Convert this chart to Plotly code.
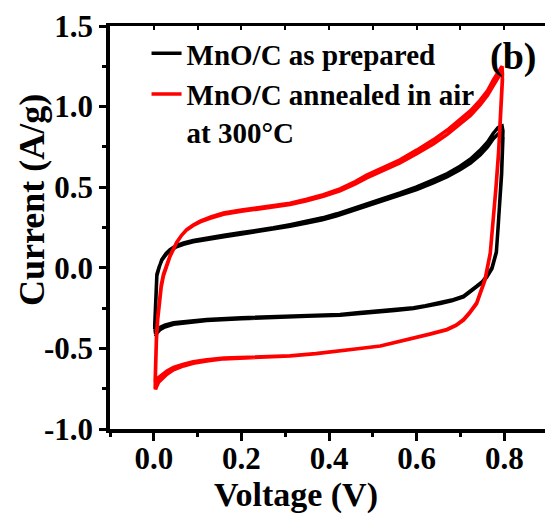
import plotly.graph_objects as go

# ---------------- data ----------------
# MnO/C as prepared (black) : forward sweep then reverse sweep, two cycles
black_v_fwd = [0.002, 0.003, 0.005, 0.007, 0.012, 0.018, 0.028, 0.037, 0.05, 0.068, 0.09, 0.121,
               0.16, 0.197, 0.235, 0.273, 0.311, 0.349, 0.385, 0.418, 0.45, 0.486, 0.524, 0.562,
               0.6, 0.638, 0.67, 0.699, 0.723, 0.745, 0.762, 0.775, 0.786, 0.795]
black_i_fwd_c1 = [-0.38, -0.28, -0.17, -0.05, 0.0, 0.05, 0.09, 0.113, 0.137, 0.155, 0.17, 0.186,
                  0.202, 0.217, 0.232, 0.248, 0.268, 0.288, 0.31, 0.335, 0.365, 0.40, 0.43, 0.464,
                  0.502, 0.546, 0.585, 0.63, 0.675, 0.73, 0.78, 0.835, 0.87, 0.88]
black_i_fwd_c2 = [-0.36, -0.27, -0.16, -0.04, 0.005, 0.045, 0.082, 0.105, 0.128, 0.146, 0.161, 0.177,
                  0.193, 0.208, 0.223, 0.239, 0.258, 0.278, 0.298, 0.322, 0.35, 0.385, 0.415, 0.448,
                  0.485, 0.527, 0.565, 0.608, 0.65, 0.70, 0.75, 0.80, 0.83, 0.84]
black_v_rev = [0.797, 0.794, 0.79, 0.786, 0.782, 0.772, 0.76, 0.75, 0.737, 0.722, 0.707, 0.68,
               0.654, 0.62, 0.593, 0.55, 0.517, 0.47, 0.425, 0.35, 0.273, 0.2, 0.121, 0.08,
               0.045, 0.025, 0.014, 0.007, 0.004]
black_i_rev_c1 = [0.85, 0.6, 0.4, 0.25, 0.1, 0.0, -0.052, -0.085, -0.114, -0.145, -0.176, -0.2,
                  -0.217, -0.235, -0.248, -0.26, -0.268, -0.278, -0.289, -0.295, -0.30, -0.31, -0.32, -0.33,
                  -0.34, -0.355, -0.37, -0.39, -0.41]
black_i_rev_c2 = [0.81, 0.58, 0.39, 0.24, 0.095, -0.005, -0.058, -0.09, -0.12, -0.15, -0.18, -0.205,
                  -0.222, -0.24, -0.253, -0.265, -0.273, -0.283, -0.294, -0.3, -0.306, -0.316, -0.327, -0.338,
                  -0.35, -0.367, -0.385, -0.405, -0.425]

# MnO/C annealed in air at 300 C (red)
red_v_fwd = [0.003, 0.004, 0.006, 0.009, 0.013, 0.017, 0.022, 0.029, 0.037, 0.045, 0.052, 0.063,
             0.075, 0.09, 0.106, 0.13, 0.159, 0.2, 0.235, 0.273, 0.311, 0.349, 0.387, 0.425,
             0.46, 0.486, 0.524, 0.562, 0.6, 0.638, 0.67, 0.699, 0.723, 0.745, 0.762, 0.775,
             0.786, 0.795]
red_i_fwd_c1 = [-0.75, -0.6, -0.45, -0.32, -0.196, -0.12, -0.05, 0.01, 0.07, 0.115, 0.155, 0.2,
                0.237, 0.265, 0.29, 0.315, 0.34, 0.358, 0.37, 0.385, 0.40, 0.425, 0.454, 0.49,
                0.535, 0.575, 0.625, 0.67, 0.73, 0.794, 0.855, 0.918, 0.975, 1.04, 1.1, 1.165,
                1.21, 1.25]
red_i_fwd_c2 = [-0.70, -0.56, -0.42, -0.3, -0.18, -0.105, -0.04, 0.02, 0.075, 0.118, 0.157, 0.2,
                0.235, 0.262, 0.285, 0.308, 0.332, 0.35, 0.362, 0.377, 0.392, 0.415, 0.443, 0.477,
                0.52, 0.558, 0.605, 0.65, 0.707, 0.768, 0.828, 0.89, 0.945, 1.01, 1.07, 1.13,
                1.18, 1.22]
red_v_rev = [0.796, 0.792, 0.787, 0.781, 0.775, 0.768, 0.756, 0.737, 0.72, 0.707, 0.69, 0.669,
             0.63, 0.593, 0.55, 0.517, 0.47, 0.425, 0.37, 0.311, 0.25, 0.197, 0.16, 0.121,
             0.09, 0.068, 0.045, 0.03, 0.018, 0.011, 0.006, 0.004]
red_i_rev_c1 = [1.2, 0.95, 0.72, 0.5, 0.30, 0.093, -0.072, -0.217, -0.28, -0.32, -0.355, -0.382,
                -0.41, -0.433, -0.46, -0.485, -0.5, -0.516, -0.533, -0.547, -0.553, -0.557, -0.565, -0.578,
                -0.592, -0.609, -0.633, -0.66, -0.69, -0.71, -0.74, -0.755]
red_i_rev_c2 = [1.17, 0.93, 0.7, 0.49, 0.29, 0.085, -0.078, -0.222, -0.285, -0.325, -0.358, -0.385,
                -0.412, -0.435, -0.462, -0.486, -0.501, -0.516, -0.532, -0.545, -0.55, -0.553, -0.56, -0.571,
                -0.583, -0.598, -0.618, -0.64, -0.665, -0.68, -0.7, -0.71]

series_names = ["MnO/C as prepared", "MnO/C annealed in air<br>at 300°C"]
x_tick_vals = [0.0, 0.2, 0.4, 0.6, 0.8]
x_tick_text = ["0.0", "0.2", "0.4", "0.6", "0.8"]
y_tick_vals = [-1.0, -0.5, 0.0, 0.5, 1.0, 1.5]
y_tick_text = ["-1.0", "-0.5", "0.0", "0.5", "1.0", "1.5"]

# ---------------- figure ----------------
FONT = "Liberation Serif"

black_v = black_v_fwd + black_v_rev + black_v_fwd + black_v_rev
black_i = black_i_fwd_c1 + black_i_rev_c1 + black_i_fwd_c2 + black_i_rev_c2
red_v = red_v_fwd + red_v_rev + red_v_fwd + red_v_rev
red_i = red_i_fwd_c1 + red_i_rev_c1 + red_i_fwd_c2 + red_i_rev_c2

fig = go.Figure()
fig.add_trace(go.Scatter(x=black_v, y=black_i, mode="lines", name=series_names[0],
                         line=dict(color="black", width=3.5)))
fig.add_trace(go.Scatter(x=red_v, y=red_i, mode="lines", name=series_names[1],
                         line=dict(color="#ff0000", width=3.5)))
fig.add_trace(go.Scatter(x=[], y=[], xaxis="x2", showlegend=False, hoverinfo="skip"))

x_range = [-0.1, 0.893]
tick_font = dict(family=FONT, size=31, color="black", weight="bold")

fig.update_layout(
    width=545, height=519,
    margin=dict(l=110, r=0, t=26, b=90),
    paper_bgcolor="white", plot_bgcolor="white",
    showlegend=True,
    legend=dict(x=0.084, y=0.995, xanchor="left", yanchor="top",
                bgcolor="rgba(0,0,0,0)", borderwidth=0, valign="top",
                font=dict(family=FONT, size=29, color="black", weight="bold"),
                tracegroupgap=0),
    xaxis=dict(range=x_range, showgrid=False, zeroline=False,
               showline=True, linecolor="black", linewidth=3.5,
               ticks="outside", ticklen=8, tickwidth=3, tickcolor="black",
               tickvals=x_tick_vals, ticktext=x_tick_text, tickfont=tick_font,
               ticklabelstandoff=-9,
               minor=dict(dtick=0.1, tick0=0, ticks="outside", ticklen=4, tickwidth=2.5,
                          tickcolor="black", showgrid=False)),
    xaxis2=dict(range=x_range, overlaying="x", side="top", showgrid=False, zeroline=False,
                showline=True, linecolor="black", linewidth=2.5,
                ticks="inside", ticklen=4, tickwidth=2, tickcolor="black",
                dtick=0.1, tick0=0, showticklabels=False),
    yaxis=dict(range=[-1.0, 1.5], showgrid=False, zeroline=False,
               showline=True, linecolor="black", linewidth=3.5,
               ticks="outside", ticklen=7, tickwidth=3, tickcolor="black",
               tickvals=y_tick_vals, ticktext=y_tick_text, tickfont=tick_font,
               minor=dict(dtick=0.25, tick0=0, ticks="outside", ticklen=4, tickwidth=2.5,
                          tickcolor="black", showgrid=False)),
)

fig.add_annotation(text="Voltage (V)", xref="paper", yref="paper",
                   x=(296 - 110) / 435, y=(429 - 495) / 403, xanchor="center", yanchor="middle",
                   showarrow=False, font=dict(family=FONT, size=34, color="black", weight="bold"))
fig.add_annotation(text="Current (A/g)", xref="paper", yref="paper", textangle=-90,
                   x=(32 - 110) / 435, y=(429 - 200) / 403, xanchor="center", yanchor="middle",
                   showarrow=False, font=dict(family=FONT, size=36, color="black", weight="bold"))
fig.add_annotation(text="(b)", xref="paper", yref="paper",
                   x=(513 - 110) / 435, y=(429 - 57) / 403, xanchor="center", yanchor="middle",
                   showarrow=False, font=dict(family=FONT, size=38, color="black", weight="bold"))

fig.write_html("out.html")
